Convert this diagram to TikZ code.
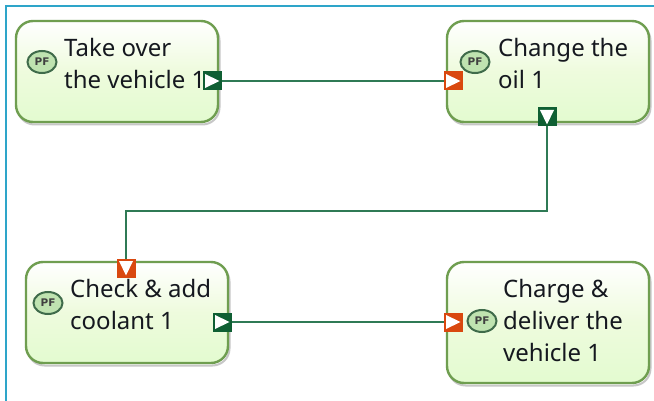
\documentclass[tikz,border=0pt]{standalone}
\usepackage{fontspec}
\setmainfont{Noto Sans}
\newfontfamily\pffont{DejaVu Sans}
\usetikzlibrary{shapes.geometric}
\definecolor{framec}{HTML}{2EA5C9}
\definecolor{edgec}{HTML}{6F9E50}
\definecolor{linkc}{HTML}{2F7A55}
\definecolor{outc}{HTML}{0F5F33}
\definecolor{inc}{HTML}{D9480F}
\definecolor{txtc}{HTML}{15181F}
\definecolor{boxmid}{HTML}{EEFBDD}
\definecolor{boxlow}{HTML}{E3FBD0}
\definecolor{iconc}{HTML}{BFE3B0}
\definecolor{iconedge}{HTML}{3F6B4A}
\tikzset{
 taskbox/.style={draw=edgec,line width=2.4pt,rounded corners=17pt,minimum width=202pt,inner sep=0pt,
   top color=white,bottom color=boxlow,middle color=boxmid,
   preaction={draw=black!55,line width=2pt,opacity=.4,transform canvas={xshift=1.5pt,yshift=-2.5pt}}},
 tasktext/.style={inner sep=0pt,align=left,anchor=north west,text=txtc,font=\fontsize{24}{32}\selectfont},
 pficon/.style={ellipse,draw=iconedge,line width=2pt,fill=iconc,minimum width=29pt,minimum height=22pt,inner sep=0pt,
   font=\pffont\bfseries\fontsize{10.5}{11}\selectfont,text=black!75},
 port/.style={rectangle,minimum size=19pt,inner sep=0pt,line width=0pt},
 portout/.style={port,fill=outc},
 portin/.style={port,fill=inc},
 pright/.style={path picture={\fill[white] ([shift={(2.5pt,-2.5pt)}]path picture bounding box.north west) -- ([shift={(2.5pt,2.5pt)}]path picture bounding box.south west) -- ([xshift=-2pt]path picture bounding box.east) -- cycle;}},
 pdown/.style={path picture={\fill[white] ([shift={(2.5pt,-2.5pt)}]path picture bounding box.north west) -- ([shift={(-2.5pt,-2.5pt)}]path picture bounding box.north east) -- ([yshift=2pt]path picture bounding box.south) -- cycle;}},
 link/.style={draw=linkc,line width=2.3pt},
}
\begin{document}
\begin{tikzpicture}[x=1pt,y=-1pt]
\useasboundingbox (0,0) rectangle (654,401);
\fill[white] (0,0) rectangle (654,401);
\coordinate (ftop) at (654,6);
\coordinate (fcorner) at (6,6);
\coordinate (fbot) at (6,401);
\draw[framec,line width=2.6pt] (ftop) -- (fcorner) -- (fbot);

\node[taskbox,minimum height=101pt] (b1) at (117,71.5) {};
\node[taskbox,minimum height=101pt] (b2) at (548,71.5) {};
\node[taskbox,minimum height=101pt] (b3) at (127,312.5) {};
\node[taskbox,minimum height=121pt] (b4) at (548,322.5) {};

\node[pficon] (i1) at (42,62) {PF};
\node[pficon] (i2) at (475,62) {PF};
\node[pficon] (i3) at (48,303) {PF};
\node[pficon] (i4) at (482,321) {PF};

\node[tasktext] (t1) at (64,38) {Take over\\the vehicle 1};
\node[tasktext] (t2) at (498,38) {Change the\\oil 1};
\node[tasktext] (t3) at (70,279) {Check \& add\\coolant 1};
\node[tasktext] (t4) at (503,279) {Charge \&\\deliver the\\vehicle 1};

\node[portout,pright] (p1o) at (212,81) {};
\node[portin,pright] (p2i) at (453,81) {};
\node[portout,pdown] (p2o) at (547,117) {};
\node[portin,pdown] (p3i) at (126,268) {};
\node[portout,pright] (p3o) at (222,322) {};
\node[portin,pright] (p4i) at (453,322) {};

\coordinate (mid) at (336,211);
\draw[link] (p1o.east) -- (p2i.west);
\draw[link] (p2o.south) |- (mid) -| (p3i.north);
\draw[link] (p3o.east) -- (p4i.west);
\end{tikzpicture}
\end{document}
